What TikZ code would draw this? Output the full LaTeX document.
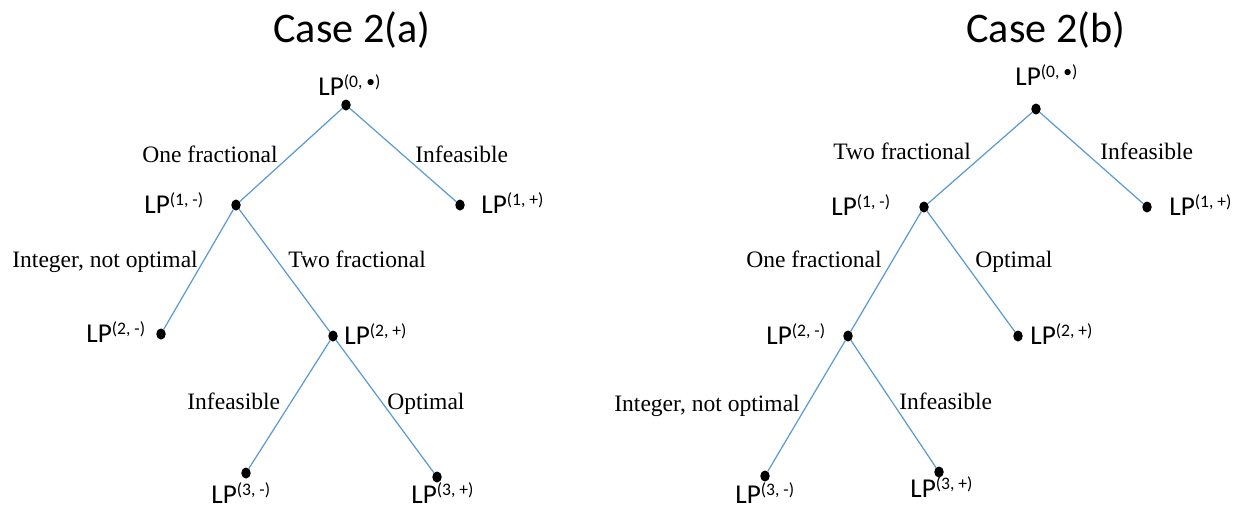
\documentclass[tikz,border=0pt]{standalone}
\usepackage{fontspec}
\setmainfont{Liberation Serif}
\newfontfamily\carl{Carlito}
\usetikzlibrary{shapes.geometric}
\definecolor{lineblue}{HTML}{5B9BD5}
\newcommand\LPs[1]{{\carl\fontsize{15.5}{18}\selectfont LP\raisebox{4pt}{\fontsize{10}{12}\selectfont(#1)}}}
\begin{document}
\begin{tikzpicture}[x=0.02cm,y=-0.02cm,
 dot/.style={ellipse,fill=black,inner sep=0,outer sep=0,minimum width=0.19cm,minimum height=0.22cm},
 edge/.style={draw=lineblue,line width=0.7pt},
 elab/.style={inner sep=0,anchor=base west,font=\fontsize{13.4}{15}\selectfont},
 lplab/.style={inner sep=0,anchor=base west},
 ttl/.style={inner sep=0,anchor=base west,font=\carl\fontsize{24}{28}\selectfont}]
\useasboundingbox (0,0) rectangle (1241,508);

% ---------- Case 2(a) ----------
\node[ttl] (ta) at (273,42) {Case 2(a)};
\node[dot] (a0) at (346,105) {};
\node[dot] (a1m) at (236,205) {};
\node[dot] (a1p) at (460,205) {};
\node[dot] (a2m) at (161,334) {};
\node[dot] (a2p) at (333,336) {};
\node[dot] (a3m) at (246,473) {};
\node[dot] (a3p) at (437,477) {};
\draw[edge] (a0) -- (a1m);
\draw[edge] (a0) -- (a1p);
\draw[edge] (a1m) -- (a2m);
\draw[edge] (a1m) -- (a2p);
\draw[edge] (a2p) -- (a3m);
\draw[edge] (a2p) -- (a3p);
\node[lplab] (la0) at (318,95) {\LPs{0, •}};
\node[lplab] (la1m) at (144,213) {\LPs{1, -}};
\node[lplab] (la1p) at (481,213) {\LPs{1, +}};
\node[lplab] (la2m) at (86,342) {\LPs{2, -}};
\node[lplab] (la2p) at (344,344) {\LPs{2, +}};
\node[lplab] (la3m) at (211,503) {\LPs{3, -}};
\node[lplab] (la3p) at (411,503) {\LPs{3, +}};
\node[elab] (ea1) at (142,162) {One fractional};
\node[elab] (ea2) at (415,162) {Infeasible};
\node[elab] (ea3) at (12,267) {Integer, not optimal};
\node[elab] (ea4) at (288,267) {Two fractional};
\node[elab] (ea5) at (187,409) {Infeasible};
\node[elab] (ea6) at (387,409) {Optimal};

% ---------- Case 2(b) ----------
\node[ttl] (tb) at (966,42) {Case 2(b)};
\node[dot] (b0) at (1036,109) {};
\node[dot] (b1m) at (924,207) {};
\node[dot] (b1p) at (1147,207) {};
\node[dot] (b2m) at (848,336) {};
\node[dot] (b2p) at (1018,336) {};
\node[dot] (b3m) at (765,476) {};
\node[dot] (b3p) at (939,472) {};
\draw[edge] (b0) -- (b1m);
\draw[edge] (b0) -- (b1p);
\draw[edge] (b1m) -- (b2m);
\draw[edge] (b1m) -- (b2p);
\draw[edge] (b2m) -- (b3m);
\draw[edge] (b2m) -- (b3p);
\node[lplab] (lb0) at (1015,85) {\LPs{0, •}};
\node[lplab] (lb1m) at (831,215) {\LPs{1, -}};
\node[lplab] (lb1p) at (1169,215) {\LPs{1, +}};
\node[lplab] (lb2m) at (766,344) {\LPs{2, -}};
\node[lplab] (lb2p) at (1030,344) {\LPs{2, +}};
\node[lplab] (lb3m) at (735,503) {\LPs{3, -}};
\node[lplab] (lb3p) at (910,497) {\LPs{3, +}};
\node[elab] (eb1) at (833,159) {Two fractional};
\node[elab] (eb2) at (1100,159) {Infeasible};
\node[elab] (eb3) at (746,267) {One fractional};
\node[elab] (eb4) at (975,267) {Optimal};
\node[elab] (eb5) at (614,411) {Integer, not optimal};
\node[elab] (eb6) at (899,409) {Infeasible};
\end{tikzpicture}
\end{document}
